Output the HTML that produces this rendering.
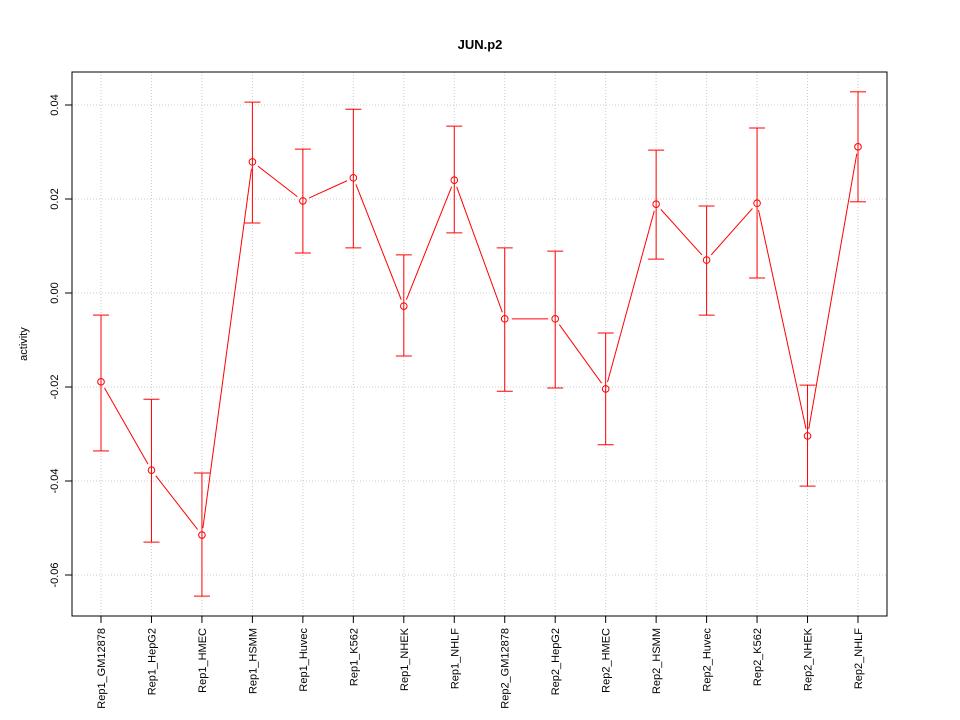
<!DOCTYPE html>
<html><head><meta charset="utf-8"><style>
body{margin:0;background:#fff;}
svg{display:block;font-family:"Liberation Sans",sans-serif;}
</style></head><body>
<svg id="chart" width="960" height="720"></svg>
<script>
const categories=["Rep1_GM12878","Rep1_HepG2","Rep1_HMEC","Rep1_HSMM","Rep1_Huvec","Rep1_K562","Rep1_NHEK","Rep1_NHLF","Rep2_GM12878","Rep2_HepG2","Rep2_HMEC","Rep2_HSMM","Rep2_Huvec","Rep2_K562","Rep2_NHEK","Rep2_NHLF"];
const values=[-0.0189,-0.0377,-0.0515,0.0279,0.0196,0.0245,-0.0028,0.0240,-0.0055,-0.0055,-0.0204,0.0189,0.0070,0.0191,-0.0304,0.0311];
const upper=[-0.0047,-0.0226,-0.0383,0.0406,0.0306,0.0391,0.0081,0.0355,0.0096,0.0089,-0.0085,0.0304,0.0185,0.0351,-0.0196,0.0428];
const lower=[-0.0336,-0.0530,-0.0645,0.0149,0.0085,0.0096,-0.0134,0.0128,-0.0209,-0.0202,-0.0323,0.0072,-0.0047,0.0032,-0.0411,0.0194];
const yTicks=[-0.06,-0.04,-0.02,0.00,0.02,0.04];
const yTickLabels=["-0.06","-0.04","-0.02","0.00","0.02","0.04"];
const NS="http://www.w3.org/2000/svg";
const svg=document.getElementById('chart');
const L=72,R=887,T=72,B=616;
function x(i){return 101+i*(858-101)/(categories.length-1);}
function y(v){return 293-v*4700;}
function el(t,a,p){const e=document.createElementNS(NS,t);for(const k in a)e.setAttribute(k,a[k]);(p||svg).appendChild(e);return e;}
// grid
categories.forEach((c,i)=>{const g=el('line',{x1:x(i),x2:x(i),y1:T,y2:B,stroke:'#ccc','stroke-dasharray':'1,2'});

});
yTicks.forEach((v)=>{const g=el('line',{x1:L,x2:R,y1:y(v),y2:y(v),stroke:'#ccc','stroke-dasharray':'1,2'});

});
// frame
const fr=el('rect',{x:L,y:T,width:R-L,height:B-T,fill:'none',stroke:'#000'});


// y axis
yTicks.forEach((v,i)=>{
const t=el('line',{x1:L-7,x2:L,y1:y(v),y2:y(v),stroke:'#000'});


const tx=el('text',{x:0,y:0,'font-size':11,'text-anchor':'middle',transform:`translate(${L-14},${y(v)}) rotate(-90)`});
tx.textContent=yTickLabels[i];


});
// x axis
categories.forEach((c,i)=>{
const t=el('line',{x1:x(i),x2:x(i),y1:B,y2:B+7,stroke:'#000'});


const tx=el('text',{x:0,y:0,'font-size':11,'text-anchor':'end',transform:`translate(${x(i)+4},${B+12}) rotate(-90)`});
tx.textContent=c;


});
// title & ylabel
const ti=el('text',{x:480,y:49,'font-size':13,'font-weight':'bold','text-anchor':'middle'});ti.textContent='JUN.p2';


const yl=el('text',{x:0,y:0,'font-size':11,'text-anchor':'middle',transform:`translate(27,344) rotate(-90)`});yl.textContent='activity';


// error bars
values.forEach((v,i)=>{
const cx=x(i);
const g=el('g',{stroke:'#f00','stroke-width':1});


el('line',{x1:cx,x2:cx,y1:y(upper[i]),y2:y(lower[i])},g);
el('line',{x1:cx-8,x2:cx+8,y1:y(upper[i]),y2:y(upper[i])},g);
el('line',{x1:cx-8,x2:cx+8,y1:y(lower[i]),y2:y(lower[i])},g);
});
// connecting segments with gaps
for(let i=0;i<values.length-1;i++){
const x1=x(i),y1=y(values[i]),x2=x(i+1),y2=y(values[i+1]);
const dx=x2-x1,dy=y2-y1,d=Math.hypot(dx,dy),g=7;
if(d<=2*g)continue;
const s=el('line',{x1:x1+dx*g/d,y1:y1+dy*g/d,x2:x2-dx*g/d,y2:y2-dy*g/d,stroke:'#f00'});


}
values.forEach((v,i)=>{
const c=el('circle',{cx:x(i),cy:y(v),r:3.3,fill:'none',stroke:'#f00'});


});
</script>
</body></html>
